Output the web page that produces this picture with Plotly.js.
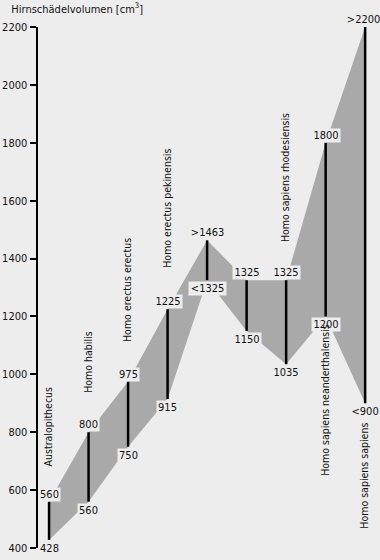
<!DOCTYPE html>
<html>
<head>
<meta charset="utf-8">
<script src="https://cdn.plot.ly/plotly-3.0.1.min.js"></script>
<style>
html,body{margin:0;padding:0;background:#ededed;}
#chart{width:380px;height:560px;}
#chart text{font-stretch:condensed;}
</style>
</head>
<body>
<div id="chart"></div>
<script>
// ---- data ----
var positions = [1, 2, 3, 4, 5, 6, 7, 8, 9];
var upperValues = [560, 800, 975, 1225, 1463, 1325, 1325, 1800, 2200];
var lowerValues = [428, 560, 750, 915, 1325, 1150, 1035, 1200, 900];
var upperLabels = ["560", "800", "975", "1225", ">1463", "1325", "1325", "1800", ">2200"];
var lowerLabels = ["428", "560", "750", "915", "<1325", "1150", "1035", "1200", "<900"];
var speciesNames = ["Australopithecus", "Homo habilis", "Homo erectus erectus", "Homo erectus pekinensis",
                    "Homo sapiens rhodesiensis", "Homo sapiens neanderthalensis", "Homo sapiens sapiens"];
var speciesPos = [1, 2, 3, 4, 7, 8, 9];
var yTicks = [400, 600, 800, 1000, 1200, 1400, 1600, 1800, 2000, 2200];
var yTitle = "Hirnschädelvolumen [cm<sup>3</sup>]";

// ---- layout-only placement of species labels (bottom edge, in axis units) ----
var speciesLabelBase = [660, 916, 1085, 1337, 1424, 612, 440];

var FONT = "'DejaVu Sans', sans-serif";

// band polygon
var bandX = positions.concat(positions.slice().reverse());
var bandY = upperValues.concat(lowerValues.slice().reverse());

// vertical range bars
var barX = [], barY = [];
positions.forEach(function (p, i) {
  barX.push(p, p, null);
  barY.push(lowerValues[i], upperValues[i], null);
});

var traces = [
  {x: bandX, y: bandY, type: 'scatter', mode: 'lines', fill: 'toself',
   fillcolor: '#a9a9a9', line: {width: 0, color: '#a9a9a9'}, hoverinfo: 'skip', showlegend: false},
  {x: barX, y: barY, type: 'scatter', mode: 'lines',
   line: {width: 2.5, color: '#000'}, hoverinfo: 'skip', showlegend: false}
];

var annotations = [];
positions.forEach(function (p, i) {
  annotations.push({x: p, y: upperValues[i], xref: 'x', yref: 'y', text: upperLabels[i],
    showarrow: false, yanchor: 'bottom', yshift: 0, borderpad: 0, bgcolor: '#ededed',
    xshift: (i === positions.length - 1) ? -2 : 0,
    font: {family: FONT, size: 11, color: '#111'}});
  annotations.push({x: p, y: lowerValues[i], xref: 'x', yref: 'y', text: lowerLabels[i],
    showarrow: false, yanchor: 'top', yshift: -1, borderpad: 0, bgcolor: '#ededed',
    font: {family: FONT, size: 11, color: '#111'}});
});
speciesNames.forEach(function (s, i) {
  annotations.push({x: speciesPos[i], y: speciesLabelBase[i], xref: 'x', yref: 'y', text: s,
    showarrow: false, textangle: -90, yanchor: 'bottom', xanchor: 'center', xshift: -1,
    font: {family: FONT, size: 10.5, color: '#111'}});
});
annotations.push({x: 0, y: 1, xref: 'paper', yref: 'paper', text: yTitle,
  showarrow: false, xanchor: 'left', yanchor: 'bottom', xshift: -36, yshift: 9,
  font: {family: FONT, size: 11, color: '#111'}});

var layout = {
  width: 380, height: 560,
  margin: {l: 38, r: 3, t: 27, b: 12},
  paper_bgcolor: '#ededed', plot_bgcolor: '#ededed',
  showlegend: false,
  xaxis: {range: [0.72, 9.3], showgrid: false, zeroline: false, showline: false,
          showticklabels: false, ticks: '', fixedrange: true},
  yaxis: {range: [400, 2200], tickvals: yTicks, ticktext: yTicks.map(String),
          showgrid: false, zeroline: false, showline: true, linewidth: 2.5, linecolor: '#000',
          ticks: 'outside', ticklen: 6, tickwidth: 2, tickcolor: '#000',
          tickfont: {family: FONT, size: 11, color: '#111'}, fixedrange: true},
  annotations: annotations
};

Plotly.newPlot('chart', traces, layout, {displayModeBar: false, staticPlot: true});
</script>
</body>
</html>
